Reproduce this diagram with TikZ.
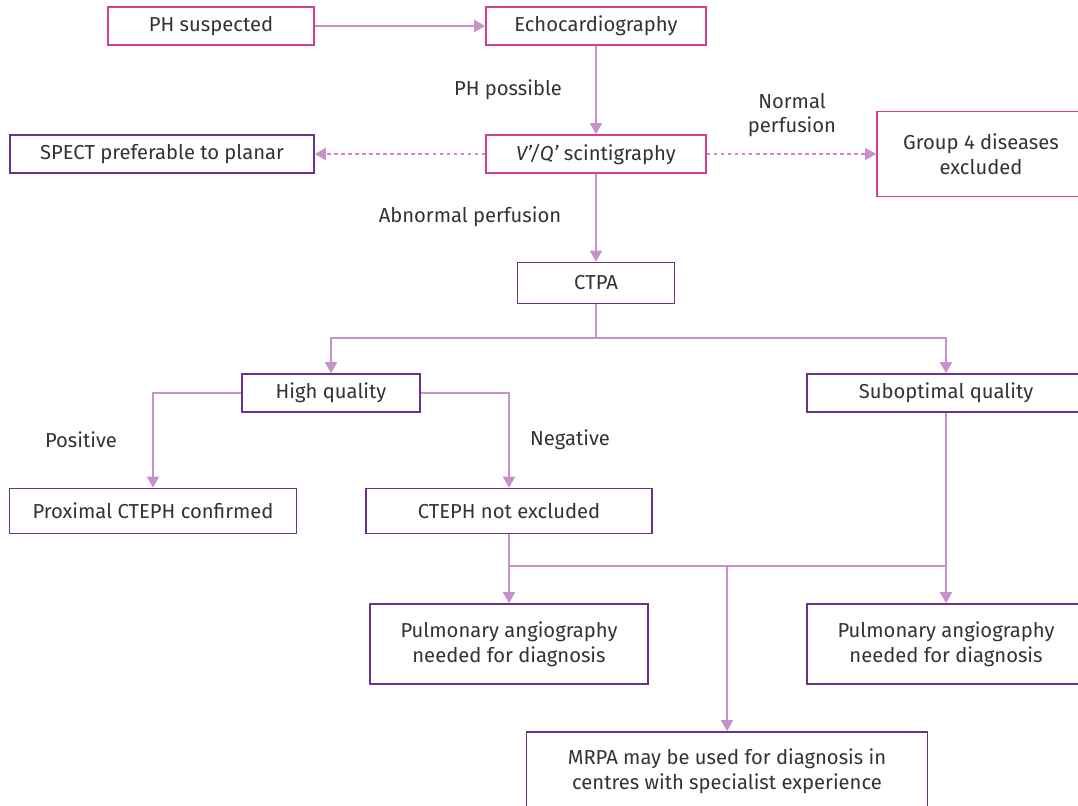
\documentclass[tikz,border=0pt]{standalone}
\usepackage{fontspec}
\setmainfont{Fira Sans}
\usetikzlibrary{arrows.meta}
\newlength{\du}
\setlength{\du}{0.02cm}
\definecolor{boxpink}{rgb}{0.839216, 0.243137, 0.533333}
\definecolor{boxpurple}{rgb}{0.423529, 0.188235, 0.560784}
\definecolor{linkcolor}{rgb}{0.780392, 0.568627, 0.792157}
\definecolor{dotcolor}{rgb}{0.862745, 0.517647, 0.800000}
\definecolor{textgrey}{rgb}{0.200000, 0.200000, 0.200000}
\tikzset{
  box/.style={rectangle, line width=0.9pt, fill=white, text=textgrey,
    align=center, minimum height=38\du, inner sep=0pt,
    font=\fontsize{11.5}{14}\selectfont},
  pinkbox/.style={box, draw=boxpink},
  purplebox/.style={box, draw=boxpurple},
  txt/.style={text=textgrey, align=center, font=\fontsize{11.5}{14}\selectfont},
  plain/.style={draw=linkcolor, line width=0.9pt},
  link/.style={plain, -{Triangle[length=0.22cm,width=0.24cm]}},
  dotlink/.style={draw=dotcolor, line width=0.9pt, dash pattern=on 2pt off 2pt,
    -{Triangle[length=0.22cm,width=0.24cm,fill=linkcolor,color=linkcolor,sep=0pt]}}
}
\begin{document}
\begin{tikzpicture}
\pgftransformxscale{1.000000}
\pgftransformyscale{-1.000000}
\useasboundingbox (0\du,0\du) rectangle (1078\du,805\du);
% first row
\node[pinkbox, minimum width=206\du] (suspected) at (211\du,26\du) {PH suspected};
\node[pinkbox, minimum width=220\du] (echo) at (596\du,26\du) {Echocardiography};
\node[pinkbox, minimum width=220\du] (vq) at (596\du,154\du) {\textit{V'/Q'} scintigraphy};
\node[purplebox, minimum width=304\du] (spect) at (162\du,154\du) {SPECT preferable to planar};
\node[pinkbox, minimum width=208\du, minimum height=85\du] (groupfour) at (981\du,154\du) {Group 4 diseases\\excluded};
\node[purplebox, minimum width=157\du, minimum height=41\du] (ctpa) at (596\du,283\du) {CTPA};
% quality
\node[purplebox, minimum width=178\du] (high) at (331\du,393\du) {High quality};
\node[purplebox, minimum width=278\du] (subopt) at (946\du,393\du) {Suboptimal quality};
\node[purplebox, minimum width=287\du, minimum height=45\du] (proximal) at (153\du,511\du) {Proximal CTEPH confirmed};
\node[purplebox, minimum width=286\du, minimum height=45\du] (notexcl) at (509\du,511\du) {CTEPH not excluded};
% diagnosis
\node[purplebox, minimum width=278\du, minimum height=80\du] (angiol) at (509\du,644\du) {Pulmonary angiography\\needed for diagnosis};
\node[purplebox, minimum width=278\du, minimum height=80\du] (angior) at (946\du,644\du) {Pulmonary angiography\\needed for diagnosis};
\node[purplebox, minimum width=401\du, minimum height=78\du] (mrpa) at (727\du,771\du) {MRPA may be used for diagnosis in\\centres with specialist experience};
% labels
\node[txt] (possible) at (508\du,90\du) {PH possible};
\node[txt] (normal) at (792\du,115\du) {Normal\\perfusion};
\node[txt] (abnormal) at (470\du,217\du) {Abnormal perfusion};
\node[txt] (positive) at (81\du,440\du) {Positive};
\node[txt] (negative) at (570\du,440\du) {Negative};
% connectors
\coordinate (split) at (596\du,338\du);
\coordinate (merge) at (509\du,566\du);
\coordinate (mrpasplit) at (727\du,566\du);
\draw[link] (suspected) -- (echo);
\draw[link] (echo) -- (vq);
\draw[dotlink] (vq) -- (spect);
\draw[dotlink] (vq) -- (groupfour);
\draw[link] (vq) -- (ctpa);
\draw[plain] (ctpa) -- (split);
\draw[link] (split) -| (high);
\draw[link] (split) -| (subopt);
\draw[link] (high.west) -| (proximal);
\draw[link] (high.east) -| (notexcl);
\draw[plain] (notexcl) -- (merge) -- (merge -| subopt);
\draw[link] (merge) -- (angiol);
\draw[link] (subopt) -- (angior);
\draw[link] (mrpasplit) -- (mrpa);
\end{tikzpicture}
\end{document}
